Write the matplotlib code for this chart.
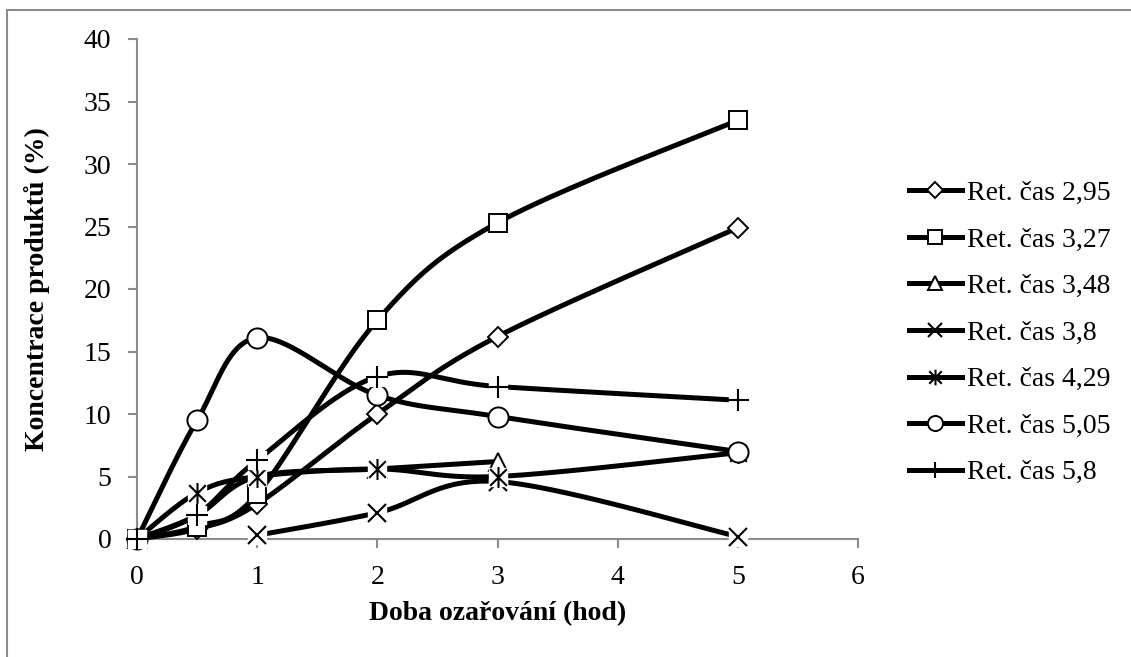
import numpy as np
import matplotlib.pyplot as plt
from matplotlib.path import Path
from matplotlib.patches import Rectangle

# retention-time series: irradiation time (hod) vs. product concentration (%)
t_full = [0, 0.5, 1, 2, 3, 5]
t_348 = [0, 0.5, 1, 2, 3]
t_38 = [1, 2, 3, 5]

c_295 = [0, 0.8, 2.8, 10.0, 16.2, 24.9]
c_327 = [0, 1.0, 3.6, 17.5, 25.3, 33.5]
c_348 = [0, 1.9, 5.0, 5.6, 6.2]
c_38 = [0.3, 2.1, 4.6, 0.2]
c_429 = [0, 3.7, 5.0, 5.6, 5.0, 6.9]
c_505 = [0, 9.5, 16.1, 11.5, 9.8, 7.0]
c_58 = [0, 1.95, 6.3, 13.0, 12.2, 11.1]

labels = ["Ret. čas 2,95", "Ret. čas 3,27", "Ret. čas 3,48", "Ret. čas 3,8",
          "Ret. čas 4,29", "Ret. čas 5,05", "Ret. čas 5,8"]

# asterisk = X with a vertical bar
ast = Path([(-1, -1), (1, 1), (-1, 1), (1, -1), (0, -1.25), (0, 1.25)],
           [Path.MOVETO, Path.LINETO, Path.MOVETO, Path.LINETO, Path.MOVETO, Path.LINETO])

series = [
    (t_full, c_295, dict(marker='D', ms=10.5, mfc='white', mew=1.4), False),
    (t_full, c_327, dict(marker='s', ms=13.5, mfc='white', mew=1.4), False),
    (t_348, c_348, dict(marker='^', ms=13, mfc='white', mew=1.4), False),
    (t_38, c_38, dict(marker='x', ms=13, mew=1.5), True),
    (t_full, c_429, dict(marker=ast, ms=15, mew=1.5), True),
    (t_full, c_505, dict(marker='o', ms=14.5, mfc='white', mew=1.4), False),
    (t_full, c_58, dict(marker='+', ms=16, mew=1.5), True),
]


def smooth(x, y, n=40):
    # cubic Bezier through the points (Catmull-Rom style control points)
    p = np.column_stack([x, y]).astype(float)
    ext = np.vstack([p[0], p, p[-1]])
    out = []
    s = np.linspace(0, 1, n)[:, None]
    for i in range(len(p) - 1):
        p0, p1, p2, p3 = ext[i], ext[i + 1], ext[i + 2], ext[i + 3]
        c1 = p1 + (p2 - p0) / 6
        c2 = p2 - (p3 - p1) / 6
        seg = ((1 - s) ** 3) * p1 + 3 * ((1 - s) ** 2) * s * c1 + 3 * (1 - s) * s ** 2 * c2 + s ** 3 * p2
        out.append(seg)
    seg = np.vstack(out)
    return seg[:, 0], seg[:, 1]


plt.rcParams['font.family'] = ['Liberation Serif', 'DejaVu Serif']
FS = 20

fig = plt.figure(figsize=(11.31, 6.57), dpi=100)
ax = fig.add_axes([137 / 1131, 1 - 539 / 657, (858 - 137) / 1131, (539 - 39) / 657])

handles = []
for k, (xs, ys, mk, boxed) in enumerate(series):
    z = 3 + 3 * k
    sx, sy = smooth(xs, ys)
    ax.plot(sx, sy, color='black', lw=3.6, solid_capstyle='butt', zorder=z, clip_on=False)
    if boxed:
        ax.plot(xs, ys, ls='none', marker='s', ms=13, mfc='white', mec='white', zorder=z + 1, clip_on=False)
    ax.plot(xs, ys, ls='none', color='black', mec='black', zorder=z + 2, clip_on=False, **mk)
    legend_mk = dict(mk)
    legend_mk['ms'] = mk['ms'] * 0.75
    h, = ax.plot([], [], color='black', lw=3.6, **legend_mk)
    handles.append(h)

ax.set_xlim(0, 6)
ax.set_ylim(0, 40)
ax.set_xticks(range(0, 7))
ax.set_yticks(range(0, 41, 5))
for side in ['top', 'right']:
    ax.spines[side].set_visible(False)
for side in ['left', 'bottom']:
    ax.spines[side].set_color('#8c8c8c')
    ax.spines[side].set_linewidth(1.5)
ax.tick_params(axis='both', direction='out', length=6.5, width=1.5, color='#8c8c8c',
               labelsize=FS)
ax.tick_params(axis='y', pad=12)
ax.tick_params(axis='x', pad=12)

ax.set_xlabel("Doba ozařování (hod)", fontsize=FS, fontweight='bold', labelpad=8)
ax.set_ylabel("Koncentrace produktů (%)", fontsize=FS, fontweight='bold', labelpad=24)

ax.legend(handles, labels, loc='center left', bbox_to_anchor=(895 / 1131, 1 - 333 / 657),
          bbox_transform=fig.transFigure, frameon=False, fontsize=FS,
          handlelength=1.9, handletextpad=0.2, labelspacing=0.76, borderpad=0)

# chart area outline (left and top edges visible)
fig.patches.append(Rectangle((7 / 1131, -0.1), 1.2, 1 - 10 / 657 + 0.1, transform=fig.transFigure,
                             fill=False, edgecolor='#8c8c8c', lw=1.5))

fig.savefig("out.png", dpi=100)
